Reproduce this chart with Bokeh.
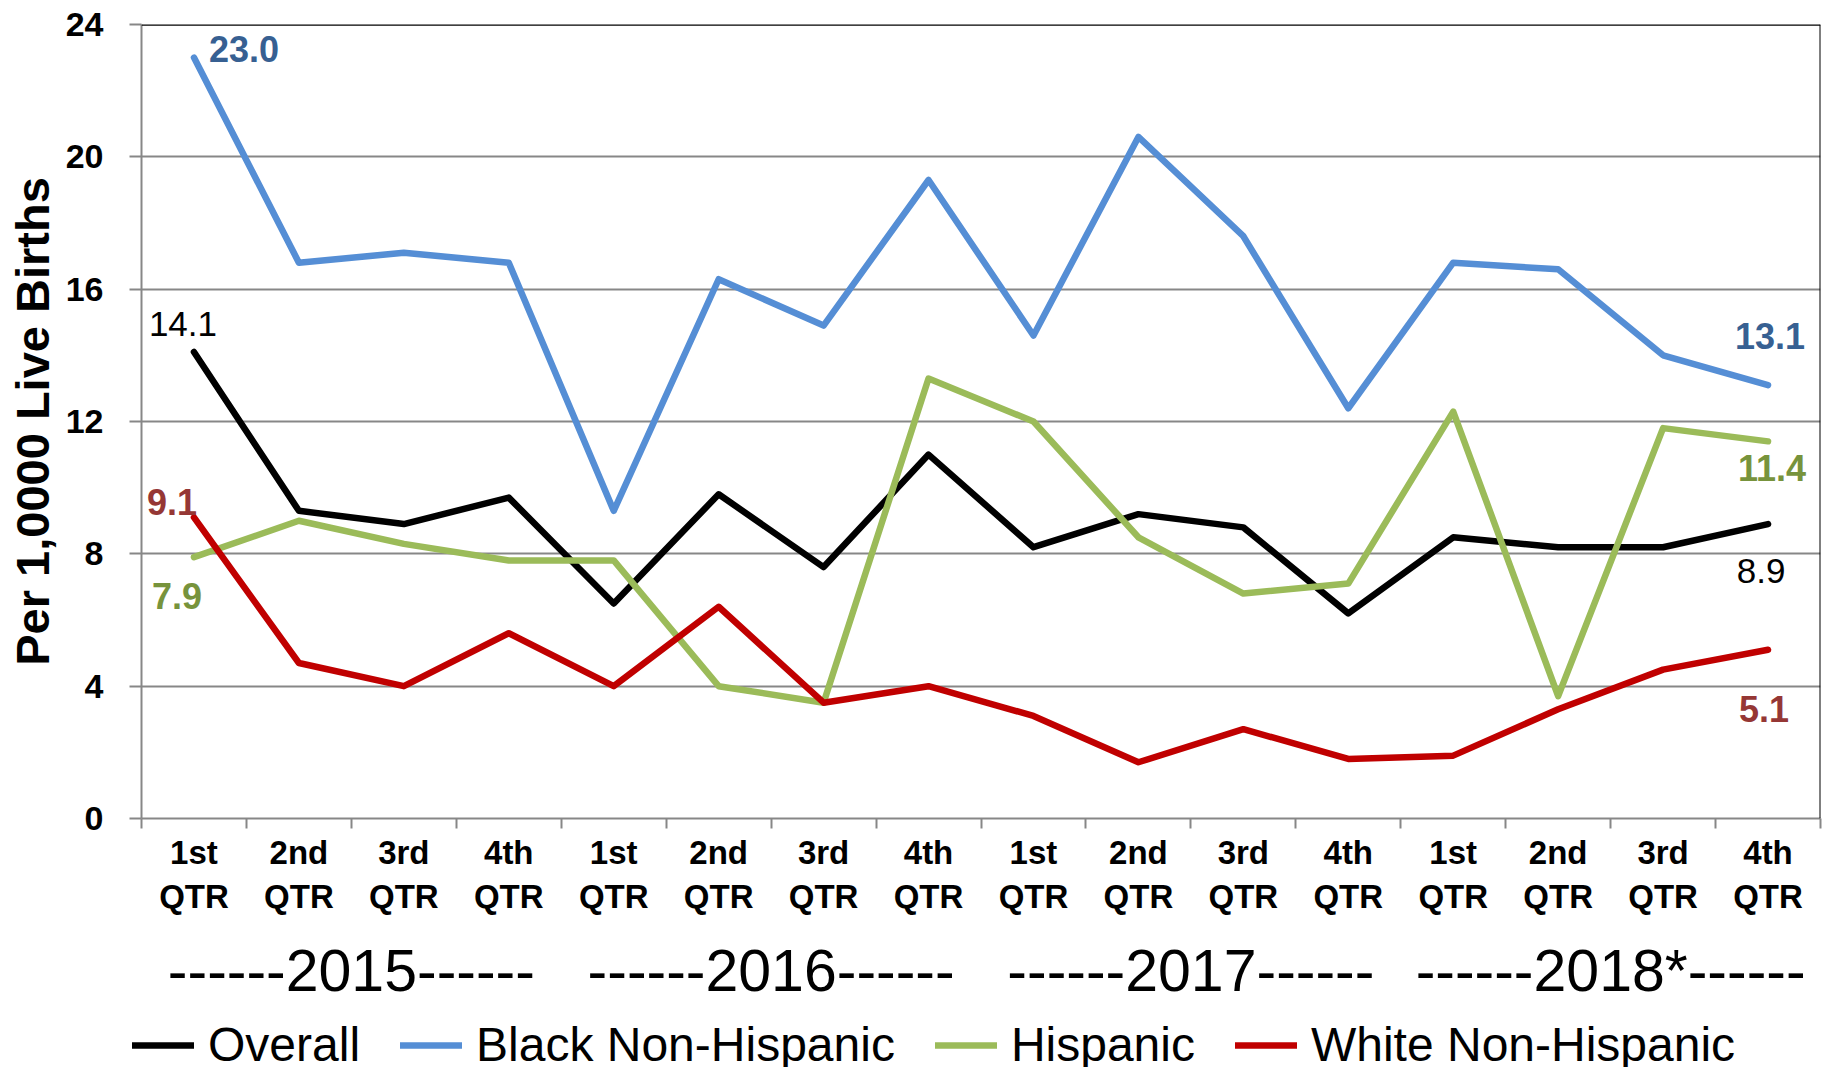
from bokeh.plotting import figure
from bokeh.models import (Range1d, FixedTicker, LinearAxis, Legend, LegendItem, Span)
from bokeh.layouts import column
from bokeh.core.properties import value
from bokeh.embed import file_html
from bokeh.resources import INLINE

# ---------------- data ----------------
quarters = ["1st", "2nd", "3rd", "4th"]
years = ["2015", "2016", "2017", "2018*"]
overall = [14.1, 9.3, 8.9, 9.7, 6.5, 9.8, 7.6, 11.0, 8.2, 9.2, 8.8, 6.2, 8.5, 8.2, 8.2, 8.9]
black_nh = [23.0, 16.8, 17.1, 16.8, 9.3, 16.3, 14.9, 19.3, 14.6, 20.6, 17.6, 12.4, 16.8, 16.6, 14.0, 13.1]
hispanic = [7.9, 9.0, 8.3, 7.8, 7.8, 4.0, 3.5, 13.3, 12.0, 8.5, 6.8, 7.1, 12.3, 3.7, 11.8, 11.4]
white_nh = [9.1, 4.7, 4.0, 5.6, 4.0, 6.4, 3.5, 4.0, 3.1, 1.7, 2.7, 1.8, 1.9, 3.3, 4.5, 5.1]
series_names = ["Overall", "Black Non-Hispanic", "Hispanic", "White Non-Hispanic"]
y_ticks = [0, 4, 8, 12, 16, 20, 24]

FONT = "Liberation Sans"
n = len(overall)
xs = list(range(1, n + 1))
colors = ["#000000", "#558ED5", "#9BBB59", "#C00000"]
data = [overall, black_nh, hispanic, white_nh]

W = 1840
H_CHART = 1012
H_LEGEND = 55

p = figure(width=W, height=H_CHART, output_backend="svg", toolbar_location=None,
           x_range=Range1d(0.5, n + 0.5), y_range=Range1d(0, 24),
           min_border_left=141, min_border_right=20, min_border_top=24,
           min_border_bottom=H_CHART - 818)
p.outline_line_color = None
p.background_fill_color = "white"

# y axis
ya = p.yaxis[0]
ya.ticker = FixedTicker(ticks=y_ticks)
ya.axis_line_color = "#878787"
ya.axis_line_width = 2
ya.major_tick_line_color = "#878787"
ya.major_tick_line_width = 2
ya.major_tick_out = 12
ya.major_tick_in = 0
ya.minor_tick_line_color = None
ya.major_label_text_font = FONT
ya.major_label_text_font_style = "bold"
ya.major_label_text_font_size = "34px"
ya.major_label_text_color = "black"
ya.major_label_standoff = 26
ya.axis_label = "Per 1,0000 Live Births"
ya.axis_label_text_font = FONT
ya.axis_label_text_font_style = "bold"
ya.axis_label_text_font_size = "47px"
ya.axis_label_text_color = "black"
ya.axis_label_standoff = 4

# x axis (quarters)
xa = p.xaxis[0]
xa.ticker = FixedTicker(ticks=xs, minor_ticks=[i + 0.5 for i in range(0, n + 1)])
xa.major_label_overrides = {i + 1: quarters[i % 4] + "\nQTR" for i in range(n)}
xa.axis_line_color = "#878787"
xa.axis_line_width = 2
xa.major_tick_line_color = None
xa.major_tick_out = 0
xa.major_tick_in = 0
xa.minor_tick_line_color = "#878787"
xa.minor_tick_line_width = 2
xa.minor_tick_out = 10
xa.minor_tick_in = 0
xa.major_label_text_font = FONT
xa.major_label_text_font_style = "bold"
xa.major_label_text_font_size = "33px"
xa.major_label_text_color = "black"
xa.major_label_standoff = 5

# year axis
year_axis = LinearAxis(ticker=FixedTicker(ticks=[2.5 + 4 * i for i in range(len(years))]),
                       major_label_overrides={2.5 + 4 * i: "------" + years[i] + "------" for i in range(len(years))})
year_axis.axis_line_color = None
year_axis.major_tick_line_color = None
year_axis.minor_tick_line_color = None
year_axis.major_tick_out = 0
year_axis.major_label_text_font = FONT
year_axis.major_label_text_font_size = "59px"
year_axis.major_label_text_color = "black"
year_axis.major_label_standoff = 20
p.add_layout(year_axis, "below")

# grid
p.xgrid.visible = False
p.ygrid.ticker = FixedTicker(ticks=y_ticks)
p.ygrid.grid_line_color = "#878787"
p.ygrid.grid_line_width = 2

# top and right borders
p.add_layout(Span(location=24, dimension="width", line_color="black", line_width=2.5))
p.add_layout(Span(location=n + 0.5, dimension="height", line_color="black", line_width=2))

for vals, col in zip(data, colors):
    p.line(xs, vals, line_color=col, line_width=6.5, line_join="round", line_cap="round")

# data labels: (series index, point index, color, bold, x_off, y_off)
label_specs = [
    (1, 0, "#376092", True, 50, -9),
    (0, 0, "#000000", False, -11, -28),
    (3, 0, "#953735", True, -22, -15),
    (2, 0, "#77933C", True, -17, 39),
    (1, n - 1, "#376092", True, 2, -49),
    (2, n - 1, "#77933C", True, 4, 27),
    (0, n - 1, "#000000", False, -7, 47),
    (3, n - 1, "#953735", True, -4, 59),
]
for si, pi, col, bold, xo, yo in label_specs:
    v = data[si][pi]
    p.text(x=[xs[pi]], y=[v], text=[f"{v:.1f}"], text_color=col,
           text_font=value(FONT), text_font_style="bold" if bold else "normal",
           text_font_size="36px" if bold else "35px", text_align="center", text_baseline="middle",
           x_offset=xo, y_offset=yo)

# ---------------- legend strip ----------------
# the same series are drawn outside this strip's visible range, only their legend shows
p2 = figure(width=W, height=H_LEGEND, output_backend="svg", toolbar_location=None,
            x_range=Range1d(-3, -2), y_range=Range1d(0, 1),
            x_axis_location=None, y_axis_location=None, min_border=0)
p2.grid.visible = False
p2.outline_line_color = None
legend_x = -19
try:
    p2.frame_align = False
    p.frame_align = False
    legend_x = 132
except Exception:
    legend_x = -19

legend_renderers = []
for vals, col in zip(data, colors):
    legend_renderers.append(p2.line(xs, vals, line_color=col, line_width=6.5, line_cap="round"))

legend = Legend(items=[LegendItem(label=nm, renderers=[r]) for nm, r in zip(series_names, legend_renderers)],
                orientation="horizontal", location=(legend_x, -5))
legend.label_text_font = FONT
legend.label_text_font_size = "48px"
legend.label_text_color = "black"
legend.glyph_width = 62
legend.glyph_height = 20
legend.label_standoff = 14
legend.spacing = 40
legend.padding = 0
legend.margin = 0
legend.border_line_color = None
legend.background_fill_alpha = 0
p2.add_layout(legend, "center")

layout = column(p, p2, spacing=0)
open("out.html", "w").write(file_html(layout, INLINE))
